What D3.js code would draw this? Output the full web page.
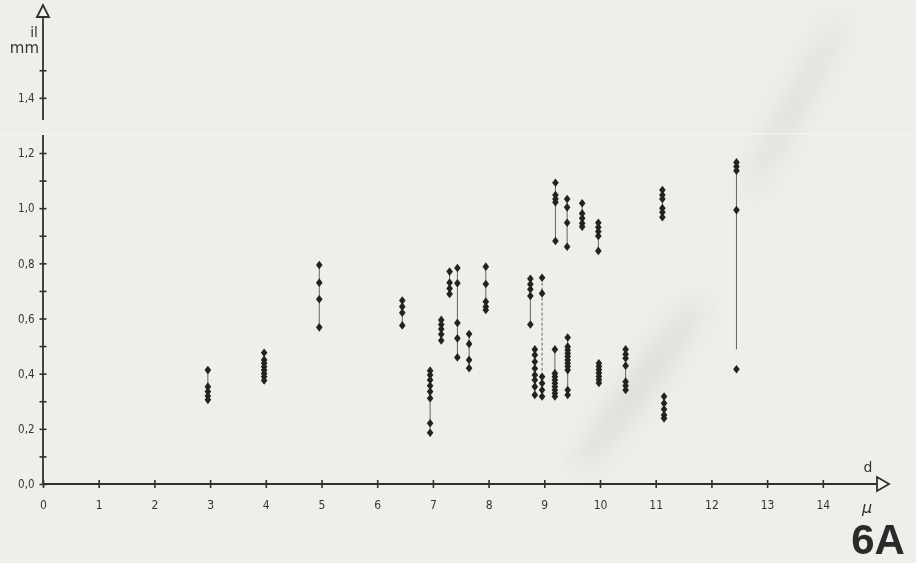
<!DOCTYPE html>
<html>
<head>
<meta charset="utf-8">
<script src="https://cdn.jsdelivr.net/npm/d3@7"></script>
<style>
  html, body { margin: 0; padding: 0; background: #efeee9; }
  svg { display: block; }
  text { font-family: "DejaVu Sans Condensed", "DejaVu Sans", sans-serif; fill: #363636; }
</style>
</head>
<body>
<svg id="chart" width="916" height="563"></svg>
<script>
// measured groups: d (micron) position and il (mm) values of each vertical row of points
var groupD = [2.96, 3.97, 4.96, 6.45, 6.95, 7.15, 7.3, 7.44, 7.65, 7.95,
              8.75, 8.83, 8.96, 9.2, 9.19, 9.41, 9.42, 9.68, 9.97, 9.98,
              10.46, 11.12, 11.15, 12.45];

var groupValues = [
  [0.413, 0.353, 0.335, 0.319, 0.305],
  [0.476, 0.450, 0.438, 0.425, 0.413, 0.401, 0.389, 0.375],
  [0.794, 0.730, 0.670, 0.568],
  [0.665, 0.643, 0.621, 0.575],
  [0.411, 0.395, 0.377, 0.356, 0.335, 0.311, 0.220, 0.186],
  [0.595, 0.578, 0.562, 0.543, 0.520],
  [0.770, 0.730, 0.709, 0.689],
  [0.783, 0.728, 0.584, 0.528, 0.459],
  [0.544, 0.508, 0.450, 0.420],
  [0.788, 0.725, 0.661, 0.643, 0.631],
  [0.744, 0.724, 0.706, 0.682, 0.578],
  [0.488, 0.468, 0.443, 0.419, 0.395, 0.377, 0.353, 0.323],
  [0.748, 0.691, 0.389, 0.365, 0.341, 0.317],
  [1.092, 1.048, 1.033, 1.021, 0.881],
  [0.488, 0.401, 0.389, 0.377, 0.365, 0.353, 0.341, 0.329, 0.317],
  [1.033, 1.003, 0.947, 0.860],
  [0.531, 0.498, 0.486, 0.474, 0.462, 0.450, 0.438, 0.426, 0.413, 0.341, 0.323],
  [1.018, 0.981, 0.963, 0.945, 0.933],
  [0.947, 0.931, 0.915, 0.899, 0.845],
  [0.438, 0.426, 0.414, 0.402, 0.390, 0.378, 0.366],
  [0.488, 0.470, 0.456, 0.429, 0.371, 0.356, 0.341],
  [1.066, 1.048, 1.033, 1.000, 0.985, 0.967],
  [0.317, 0.293, 0.271, 0.250, 0.238],
  [1.166, 1.151, 1.136, 0.993, 0.416]
];

// lower end of the vertical line when it stops above the lowest point
var lineLow = [null, null, null, null, null, null, null, null, null, null,
               null, null, null, null, null, null, null, null, null, null,
               null, null, null, 0.488];

var xTicks = d3.range(0, 15);
var yMajor = [0, 0.2, 0.4, 0.6, 0.8, 1.0, 1.2, 1.4];
var yMinor = [0.1, 0.3, 0.5, 0.7, 0.9, 1.1, 1.5];

var svg = d3.select("#chart");
var x = d3.scaleLinear().domain([0, 14]).range([43, 822.8]);
var y = d3.scaleLinear().domain([0, 1.2]).range([484, 153]);
var ink = "#303030";

// paper smudges from the scan
var defs = svg.append("defs");
defs.append("filter").attr("id", "blur").attr("x", "-50%").attr("y", "-50%")
  .attr("width", "200%").attr("height", "200%")
  .append("feGaussianBlur").attr("stdDeviation", 12);
var smudge = svg.append("g").attr("filter", "url(#blur)");
smudge.append("ellipse").attr("cx", 640).attr("cy", 385).attr("rx", 105).attr("ry", 13)
  .attr("transform", "rotate(-54 640 385)").attr("fill", "#cfcec9").attr("opacity", 0.55);
smudge.append("ellipse").attr("cx", 795).attr("cy", 105).attr("rx", 100).attr("ry", 11)
  .attr("transform", "rotate(-62 795 105)").attr("fill", "#d3d2cd").attr("opacity", 0.55);
// scan seam
svg.append("line").attr("x1", 0).attr("x2", 916).attr("y1", 134).attr("y2", 134)
  .attr("stroke", "#f6f6f3").attr("stroke-width", 1);

// ----- axes -----
var axes = svg.append("g").attr("stroke", ink).attr("fill", "none");
axes.append("line").attr("x1", x(0)).attr("x2", 877).attr("y1", y(0)).attr("y2", y(0))
  .attr("stroke-width", 1.8);
axes.append("line").attr("x1", x(0)).attr("x2", x(0)).attr("y1", y(0)).attr("y2", 135)
  .attr("stroke-width", 1.8);
axes.append("line").attr("x1", x(0)).attr("x2", x(0)).attr("y1", 120).attr("y2", 17)
  .attr("stroke-width", 1.8);
// open arrow heads
axes.append("path").attr("d", "M" + (x(0) - 6) + ",17 L" + x(0) + ",5 L" + (x(0) + 6) + ",17 Z")
  .attr("fill", "#f4f3ef").attr("stroke-width", 1.8);
axes.append("path").attr("d", "M877," + (y(0) - 7) + " L889," + y(0) + " L877," + (y(0) + 7) + " Z")
  .attr("fill", "#f4f3ef").attr("stroke-width", 1.8);

var gx = svg.append("g").attr("transform", "translate(0," + y(0) + ")")
  .call(d3.axisBottom(x).tickValues(xTicks).tickSize(4).tickPadding(12).tickFormat(d3.format("d")));
gx.select(".domain").remove();
gx.selectAll(".tick line").attr("y1", -4).attr("stroke", ink).attr("stroke-width", 1.6);
gx.selectAll(".tick text").style("font-size", "12px").attr("fill", "#333");

var gy = svg.append("g").attr("transform", "translate(" + x(0) + ",0)")
  .call(d3.axisLeft(y).tickValues(yMajor).tickSize(3.5).tickPadding(5)
    .tickFormat(function(d) { return d3.format(".1f")(d).replace(".", ","); }));
gy.select(".domain").remove();
gy.selectAll(".tick line").attr("x1", 3.5).attr("stroke", ink).attr("stroke-width", 1.6);
gy.selectAll(".tick text").style("font-size", "11.5px").attr("fill", "#333");

var gyMinor = svg.append("g").attr("transform", "translate(" + x(0) + ",0)")
  .call(d3.axisLeft(y).tickValues(yMinor).tickSize(3.5).tickFormat(""));
gyMinor.select(".domain").remove();
gyMinor.selectAll(".tick line").attr("x1", 3.5).attr("stroke", ink).attr("stroke-width", 1.6);

// axis titles
svg.append("text").attr("x", 38).attr("y", 37).attr("text-anchor", "end")
  .style("font-family", "DejaVu Sans").style("font-size", "14px").text("il");
svg.append("text").attr("x", 39).attr("y", 53).attr("text-anchor", "end")
  .style("font-family", "DejaVu Sans").style("font-size", "15px").text("mm");
svg.append("text").attr("x", 868).attr("y", 472).attr("text-anchor", "middle")
  .style("font-family", "DejaVu Sans").style("font-size", "14px").text("d");
svg.append("text").attr("x", 867).attr("y", 513).attr("text-anchor", "middle")
  .style("font-family", "DejaVu Sans").style("font-style", "italic").style("font-size", "16px").text("μ");
svg.append("text").attr("x", 878).attr("y", 554).attr("text-anchor", "middle")
  .style("font-family", "Liberation Sans").style("font-weight", "bold").style("font-size", "42px")
  .style("fill", "#2a2a2a").text("6A");

// ----- data -----
var groups = groupD.map(function(d, i) {
  return { d: d, values: groupValues[i], low: lineLow[i] };
});

var diamond = "M0,-4.3 L3.3,0 L0,4.3 L-3.3,0 Z";

var g = svg.selectAll("g.group").data(groups).enter().append("g").attr("class", "group");

g.append("line")
  .attr("x1", function(d) { return x(d.d); })
  .attr("x2", function(d) { return x(d.d); })
  .attr("y1", function(d) { return y(d3.max(d.values)); })
  .attr("y2", function(d) { return y(d.low != null ? d.low : d3.min(d.values)); })
  .attr("stroke", "#555")
  .attr("stroke-width", 0.9)
  .attr("stroke-dasharray", function(d) { return d.d === 8.96 ? "3,2" : null; });

g.selectAll("path")
  .data(function(d) { return d.values.map(function(v) { return { d: d.d, v: v }; }); })
  .enter().append("path")
  .attr("d", diamond)
  .attr("transform", function(p) { return "translate(" + x(p.d) + "," + y(p.v) + ")"; })
  .attr("fill", "#222");
</script>
</body>
</html>
